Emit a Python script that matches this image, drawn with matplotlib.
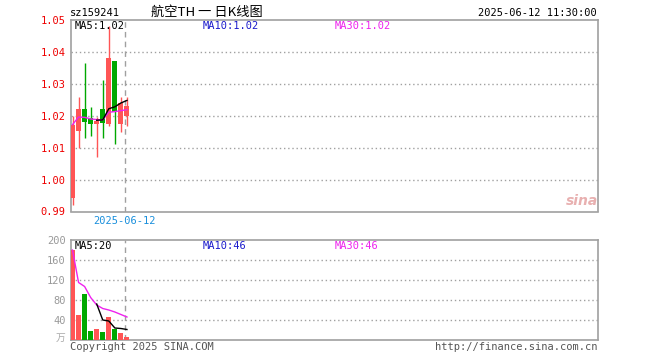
import numpy as np
import matplotlib
matplotlib.use("Agg")
import matplotlib.pyplot as plt

# 数据
opens  = [0.9943, 1.0151, 1.0222, 1.0193, 1.0174, 1.0222, 1.0174, 1.0373, 1.0174, 1.0200]
closes = [1.0172, 1.0222, 1.0179, 1.0175, 1.0183, 1.0177, 1.0382, 1.0213, 1.0240, 1.0231]
highs  = [1.0198, 1.0260, 1.0365, 1.0228, 1.0197, 1.0313, 1.0481, 1.0373, 1.0260, 1.0260]
lows   = [0.9920, 1.0100, 1.0130, 1.0138, 1.0072, 1.0130, 1.0167, 1.0112, 1.0148, 1.0169]
ma5    = [np.nan, np.nan, np.nan, np.nan, 1.0186, 1.0187, 1.0222, 1.0228, 1.0240, 1.0248]
ma30   = [1.0172, 1.0196, 1.0195, 1.0190, 1.0188, 1.0187, 1.0211, 1.0213, 1.0216, 1.0219]

volumes  = [180, 50, 92, 18, 22, 16, 46, 23, 14, 6]
vol_ma5  = [np.nan, np.nan, np.nan, np.nan, 72, 40, 38, 24, 23, 21]
vol_ma30 = [180, 115, 107, 85, 70, 63, 60, 56, 51, 46]

price_ticks = [0.99, 1.00, 1.01, 1.02, 1.03, 1.04, 1.05]
vol_ticks = [40, 80, 120, 160, 200]

RED = '#ff5555'
GREEN = '#00a800'
GRAY = '#a0a0a0'
MAG = '#ee22ee'
BLUE = '#1a1acc'
MONO = 'DejaVu Sans Mono'

W, H = 660, 360
fig = plt.figure(figsize=(6.6, 3.6), dpi=100)


def fx(x):
    return x / W


def fy(y):
    return 1 - y / H


def ftext(x, y, s, **kw):
    fig.text(fx(x), fy(y), s, **kw)


# 坐标区
L, R = 70.5, 597.7
ax = fig.add_axes([fx(L), fy(211.5), (R - L) / W, (211.5 - 20) / H])
axv = fig.add_axes([fx(L), fy(340), (R - L) / W, 100 / H])

step = 6.05
x0 = -2 / step
x1 = x0 + (R - L) / step
idx = np.arange(len(opens))
split_x = 8.6

for a in (ax, axv):
    a.set_xlim(x0, x1)
    for sp in a.spines.values():
        sp.set_color(GRAY)
        sp.set_linewidth(1.2)
    a.set_xticks([])
    a.tick_params(left=False, length=0)
    a.axvline(split_x, color=GRAY, lw=1, ls=(0, (4, 3)), zorder=1)

# K线
ax.set_ylim(0.99, 1.05)
for g in price_ticks[1:-1]:
    ax.axhline(g, color=GRAY, lw=1, ls=(0, (1, 2)), zorder=0)
cols = [RED if c >= o else GREEN for o, c in zip(opens, closes)]
ax.vlines(idx, lows, highs, colors=cols, lw=1, zorder=2)
bottoms = np.minimum(opens, closes)
heights = np.maximum(np.abs(np.array(closes) - np.array(opens)), 0.0003)
ax.bar(idx, heights, bottom=bottoms, width=0.82, color=cols, zorder=3)
ax.plot(idx, ma30, color=MAG, lw=1, zorder=4)
ax.plot(idx, ma5, color='black', lw=1, zorder=5)
ax.set_yticks(price_ticks)
ax.set_yticklabels(['%.2f' % t for t in price_ticks], color='#ee0000',
                   family=MONO, fontsize=7.5)

# 成交量
axv.set_ylim(0, 200)
for g in vol_ticks[:-1]:
    axv.axhline(g, color=GRAY, lw=1, ls=(0, (1, 2)), zorder=0)
axv.bar(idx, volumes, width=0.82, color=cols, zorder=3)
axv.plot(idx, vol_ma30, color=MAG, lw=1, zorder=4)
axv.plot(idx, vol_ma5, color='black', lw=1, zorder=5)
axv.set_yticks(vol_ticks)
axv.set_yticklabels([str(t) for t in vol_ticks], color='#999999',
                    family=MONO, fontsize=7.5)

# 文字
ftext(70, 13, 'sz159241', family=MONO, fontsize=7.5, va='center')
ftext(207, 12, '航空TH 一 日K线图', family=['Noto Sans CJK SC', 'DejaVu Sans'],
      fontsize=9.5, ha='center', va='center')
ftext(597, 13, '2025-06-12 11:30:00', family=MONO, fontsize=7.5,
      ha='right', va='center')

ftext(75, 26, 'MA5:1.02', family=MONO, fontsize=7.5, va='center', color='black')
ftext(203, 26, 'MA10:1.02', family=MONO, fontsize=7.5, va='center', color=BLUE)
ftext(335, 26, 'MA30:1.02', family=MONO, fontsize=7.5, va='center', color=MAG)

ftext(75, 246, 'MA5:20', family=MONO, fontsize=7.5, va='center', color='black')
ftext(203, 246, 'MA10:46', family=MONO, fontsize=7.5, va='center', color=BLUE)
ftext(335, 246, 'MA30:46', family=MONO, fontsize=7.5, va='center', color=MAG)

ftext(124.5, 221.5, '2025-06-12', family=MONO, fontsize=7.5, ha='center',
      va='center', color='#1a8fdc')
ftext(65, 338, '万', family=['Noto Sans CJK SC', 'DejaVu Sans'], fontsize=7,
      ha='right', va='center', color='#aaaaaa')

ftext(70, 346.5, 'Copyright 2025 SINA.COM', family=MONO, fontsize=7.5,
      va='center', color='#555555')
ftext(597, 346.5, 'http://finance.sina.com.cn', family=MONO, fontsize=7.5,
      ha='right', va='center', color='#555555')

ftext(582, 201, 'sina', family='DejaVu Sans', fontsize=10, style='italic',
      weight='bold', ha='center', va='center', color='#e8b0b0')

fig.savefig('out.png', dpi=100)
